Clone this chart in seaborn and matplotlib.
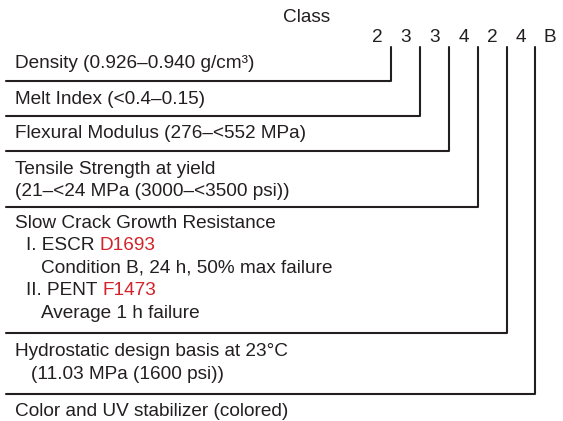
import pandas as pd
import matplotlib.pyplot as plt
import seaborn as sns

# class code printed above the connectors
class_code = ["2", "3", "3", "4", "2", "4", "B"]

# one block per property; each line is a list of (text, is_reference) segments
prop_lines = [
    [[("Density (0.926–0.940 g/cm³)", False)]],
    [[("Melt Index (<0.4–0.15)", False)]],
    [[("Flexural Modulus (276–<552 MPa)", False)]],
    [[("Tensile Strength at yield", False)],
     [("(21–<24 MPa (3000–<3500 psi))", False)]],
    [[("Slow Crack Growth Resistance", False)],
     [("I. ESCR", False), ("D1693", True)],
     [("Condition B, 24 h, 50% max failure", False)],
     [("II. PENT", False), ("F1473", True)],
     [("Average 1 h failure", False)]],
    [[("Hydrostatic design basis at 23°C", False)],
     [("(11.03 MPa (1600 psi))", False)]],
    [[("Color and UV stabilizer (colored)", False)]],
]
line_indent = [
    [0], [0], [0], [0, 0], [0, 11, 26, 11, 26], [0, 16], [0],
]

INK = "#231f20"
RED = "#d2232a"
FS = 13.7


def draw_class_diagram():
    sns.set_theme(style="white")
    plt.rcParams["font.family"] = ["Liberation Sans", "DejaVu Sans"]

    fig = plt.figure(figsize=(5.63, 4.21), dpi=100)
    ax = fig.add_axes([0, 0, 1, 1])

    # layout in pixel units
    digit_x = [377 + 28.8 * i for i in range(len(class_code))]
    digit_y = 38
    vert_top = 47
    rule_y = [81, 116, 151, 207, 333, 394]
    block_top = [63, 99, 133, 169, 223, 352, 411]
    line_step = 22.5
    text_x = 15
    rule_x0 = 6

    # elbow connectors: rule under each block, then up to its class digit
    rows = []
    for i, y in enumerate(rule_y):
        vx = digit_x[i + 1] - 14.4
        for k, (px, py) in enumerate([(rule_x0, y), (vx, y), (vx, vert_top)]):
            rows.append({"prop": i, "order": k, "x": px, "y": py})
    paths = pd.DataFrame(rows)
    sns.lineplot(data=paths, x="x", y="y", units="prop", estimator=None,
                 sort=False, color=INK, linewidth=1.5, ax=ax, legend=False)
    ax.set_xlim(0, 563)
    ax.set_ylim(421, 0)
    ax.axis("off")

    ax.text(283, 17, "Class", fontsize=FS, color=INK, ha="left", va="center")
    for x, c in zip(digit_x, class_code):
        ax.text(x, digit_y, c, fontsize=FS, color=INK, ha="center", va="center")

    for b, lines in enumerate(prop_lines):
        for j, segs in enumerate(lines):
            y = block_top[b] + j * line_step
            x = text_x + line_indent[b][j]
            prev = None
            for text, is_ref in segs:
                col = RED if is_ref else INK
                if prev is None:
                    prev = ax.text(x, y, text, fontsize=FS, color=col,
                                   ha="left", va="center")
                else:
                    prev = ax.annotate(text, xy=(1, 0), xycoords=prev,
                                       xytext=(3.8, 0), textcoords="offset points",
                                       fontsize=FS, color=col, ha="left", va="bottom")

    fig.savefig("out.png", dpi=100)


if __name__ == "__main__":
    draw_class_diagram()
